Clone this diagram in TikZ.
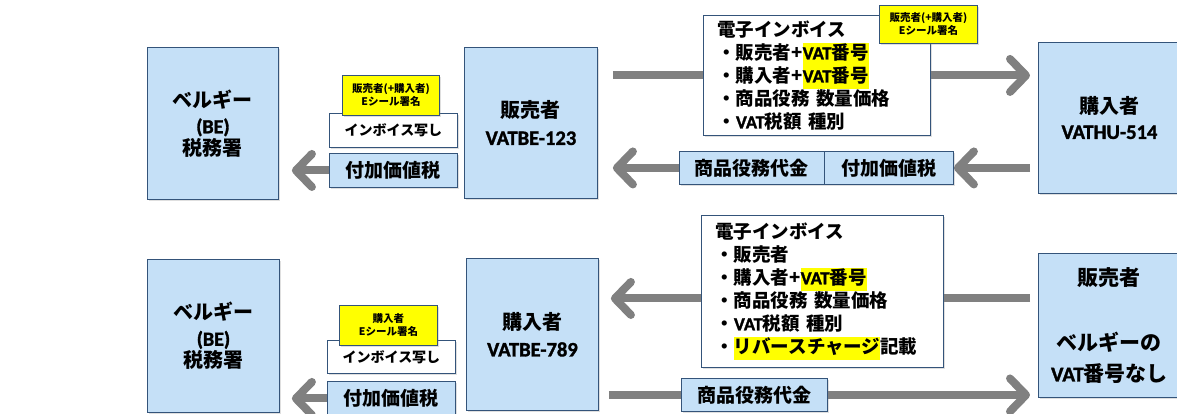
\documentclass[tikz,border=0pt]{standalone}
\usepackage{fontspec}
\setmainfont{Noto Sans CJK JP}
\newfontfamily\latf{Carlito}[BoldFeatures={FakeBold=1.5}]
\usetikzlibrary{arrows.meta,shadows,backgrounds,calc}
\definecolor{boxfill}{RGB}{197,224,247}
\definecolor{boxline}{RGB}{52,84,122}
\definecolor{argray}{RGB}{128,128,128}
\definecolor{hly}{RGB}{255,255,0}
\newcommand\ltn[1]{{\latf #1}}
\newcommand\hlt[1]{{\setlength{\fboxsep}{0pt}\colorbox{hly}{\strut #1}}}
\begin{document}
\begin{tikzpicture}[x=1pt,y=-1pt,
  shad/.style={drop shadow={shadow xshift=1.5pt,shadow yshift=-1.5pt,opacity=0.25}},
  bluebox/.style={draw=boxline,fill=boxfill,line width=0.9pt,shad,inner sep=0pt,anchor=north west,align=center,font=\bfseries\fontsize{20}{25}\selectfont},
  invbox/.style={draw=boxline,fill=white,line width=0.9pt,shad,inner xsep=14pt,inner ysep=0pt,anchor=north west,align=left,font=\bfseries\fontsize{18.5}{23}\selectfont},
  tagbox/.style={draw=boxline,fill=boxfill,line width=0.9pt,shad,inner sep=0pt,anchor=north west,font=\bfseries\fontsize{19}{22}\selectfont},
  whitebox/.style={draw=boxline,fill=white,line width=0.9pt,shad,inner sep=0pt,anchor=north west,font=\bfseries\fontsize{14}{16}\selectfont},
  sealbox/.style={draw=boxline,fill=hly,line width=0.9pt,shad,inner sep=0pt,anchor=north west,align=center,font=\bfseries\fontsize{10.5}{13}\selectfont},
  garrow/.style={draw=argray,line width=8pt,-{Straight Barb[length=16pt,width=33pt,round]}},
]
\useasboundingbox (0,0) rectangle (1177,414);
\clip (0,0) rectangle (1177,414);
\begin{pgfonlayer}{background}
\fill[white] (0,0) rectangle (1177,414);
\end{pgfonlayer}

% ---- top row ----
\node[bluebox,minimum width=131pt,minimum height=152pt] (be1) at (147,47)
  {ベルギー\\[1pt]{\latf\fontsize{20}{24}\selectfont (BE)}\\[-3pt]税務署};
\node[bluebox,minimum width=133pt,minimum height=151pt] (sel1) at (464,47)
  {販売者\\[2pt]{\latf\fontsize{20.5}{24}\selectfont VATBE-123}};
\node[bluebox,minimum width=142pt,minimum height=151pt] (buy1) at (1038,42)
  {購入者\\{\latf\fontsize{20.5}{24}\selectfont VATHU-514}};

\node[invbox,text width=199pt,minimum width=227pt,minimum height=120pt] (inv1) at (703,15)
  {電子インボイス\\・販売者+\hlt{\ltn{VAT}番号}\\・購入者+\hlt{\ltn{VAT}番号}\\・商品役務 数量価格\\・\ltn{VAT}税額 種別};
\node[sealbox,minimum width=98pt,minimum height=38pt] (seal1) at (879,5)
  {販売者(+購入者)\\Eシール署名};

\node[tagbox,minimum width=145pt,minimum height=33pt] (c1a) at (679,151) {商品役務代金};
\node[tagbox,minimum width=129pt,minimum height=33pt] (c1b) at (824,151) {付加価値税};

\node[tagbox,minimum width=128pt,minimum height=34pt] (t1) at (329,153) {付加価値税};
\node[whitebox,minimum width=128pt,minimum height=34pt] (w1) at (329,113) {インボイス写し};
\node[sealbox,minimum width=97pt,minimum height=40pt] (seal2) at (342,75)
  {販売者(+購入者)\\Eシール署名};

% ---- bottom row ----
\node[bluebox,minimum width=132pt,minimum height=153pt] (be2) at (147,259)
  {ベルギー\\[1pt]{\latf\fontsize{20}{24}\selectfont (BE)}\\[-3pt]税務署};
\node[bluebox,minimum width=132pt,minimum height=152pt] (buy2) at (466,258)
  {購入者\\[2pt]{\latf\fontsize{20.5}{24}\selectfont VATBE-789}};
\node[bluebox,minimum width=142pt,minimum height=144pt,font=\bfseries\fontsize{21}{31}\selectfont] (sel2) at (1038,253)
  {販売者\\[34pt]ベルギーの\\\ltn{VAT}番号なし};

\node[invbox,text width=214pt,minimum width=242pt,minimum height=152pt] (inv2) at (701,215)
  {電子インボイス\\・販売者\\・購入者+\hlt{\ltn{VAT}番号}\\・商品役務 数量価格\\・\ltn{VAT}税額 種別\\・\hlt{リバースチャージ}記載};

\node[tagbox,minimum width=146pt,minimum height=33pt] (c2) at (681,378) {商品役務代金};

\node[tagbox,minimum width=128pt,minimum height=34pt] (t2) at (327,381) {付加価値税};
\node[whitebox,minimum width=128pt,minimum height=33pt] (w2) at (327,340) {インボイス写し};
\node[sealbox,minimum width=98pt,minimum height=40pt] (seal3) at (339,305)
  {購入者\\Eシール署名};

% ---- arrows ----
\begin{pgfonlayer}{background}
\draw[garrow] ([xshift=15pt]sel1.east |- inv1.west) -- ([xshift=-8pt]buy1.west |- inv1.west);
\draw[garrow] ([xshift=-8pt]buy1.west |- c1b.east) -- (c1b.east);
\draw[garrow] (c1a.west) -- ([xshift=15pt]sel1.east |- c1a.west);
\draw[garrow] (t1.west) -- ([xshift=13pt]be1.east |- t1.west);
\draw[garrow] ([xshift=-8pt,yshift=-7pt]sel2.west |- inv2.west) -- ([xshift=12pt,yshift=-7pt]buy2.east |- inv2.west);
\draw[garrow] ([xshift=10pt]buy2.east |- c2.east) -- ([xshift=-8pt]sel2.west |- c2.east);
\draw[garrow] (t2.west) -- ([xshift=12pt]be2.east |- t2.west);
\end{pgfonlayer}
\end{tikzpicture}
\end{document}
